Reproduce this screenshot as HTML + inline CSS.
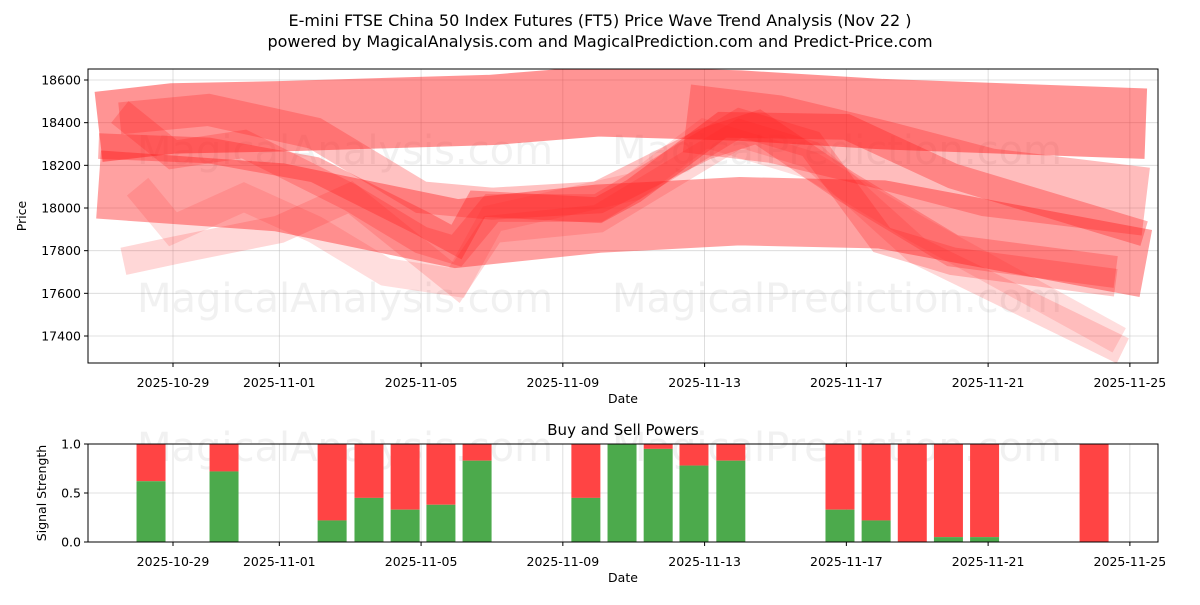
<!DOCTYPE html>
<html><head><meta charset="utf-8"><style>
body{margin:0;background:#fff;font-family:"Liberation Sans","DejaVu Sans",sans-serif;}
svg text{font-family:"DejaVu Sans","Liberation Sans",sans-serif;}
</style></head><body>
<svg id="c" width="1200" height="600" viewBox="0 0 1200 600" xmlns="http://www.w3.org/2000/svg">
<rect width="1200" height="600" fill="#fff"/>
<text x="600" y="26" text-anchor="middle" font-size="16" fill="#000">E-mini FTSE China 50 Index Futures (FT5) Price Wave Trend Analysis (Nov 22 )</text>
<text x="600" y="47" text-anchor="middle" font-size="16" fill="#000">powered by MagicalAnalysis.com and MagicalPrediction.com and Predict-Price.com</text>
<g id="topPanel"></g>
<g id="botPanel"></g>
</svg>
<script>
const NS='http://www.w3.org/2000/svg';
// x data: days since 2025-10-29
const tickDays=[0,3,7,11,15,19,23,27];
const tickLabels=['2025-10-29','2025-11-01','2025-11-05','2025-11-09','2025-11-13','2025-11-17','2025-11-21','2025-11-25'];
const priceTicks=[17400,17600,17800,18000,18200,18400,18600];
const powerTicks=[0,0.5,1.0];
const powerTickLabels=['0.0','0.5','1.0'];
// wave bands: [day, price] centerlines
const bandA=[[-2.1,18380],[0,18420],[3,18430],[9,18460],[12,18500],[16,18480],[20,18440],[27.45,18395]];
const bandB=[[-2.1,18110],[3,18050],[8,17880],[12,17950],[16,17985],[20,17970],[27.45,17740]];
const bandH=[[14.5,18420],[17,18370],[20,18250],[23,18120],[27.45,18030]];
const bandC=[[-2.1,18290],[1,18270],[4,18180],[7,17930],[8,17840],[8.6,18020],[12,17990],[13,18080],[15.5,18390],[19,18380],[22,18150],[25,18000],[27.4,17880]];
const bandD=[[-1.5,18450],[0,18250],[2,18300],[5,18050],[7,17850],[8,17800],[9,18000],[12,18000],[14,18200],[16,18400],[18,18300],[20,17850],[22,17750],[26.6,17650]];
const bandE=[[-1.4,17750],[0,17800],[3,17900],[5,18050],[8,17650],[9,17900],[12,17950],[16,18350],[18,18250],[21,17800],[26.8,17330]];
const bandF=[[-1.5,18420],[1,18460],[4,18350],[7,18050],[9,18020],[12,18050],[15,18300],[16.5,18380],[19,18100],[22,17800],[26.6,17700]];
const bandG=[[-1,18100],[0,17900],[2,18050],[4,17900],[6,17700],[8,17650],[9,17950],[13,18100],[15,18350],[18,18200],[21,17900],[26.7,17380]];
const bands=[bandB,bandA,bandH,bandG,bandE,bandF,bandD,bandC];
const bandThick=[320,330,320,130,130,150,130,120];
const bandAlpha=[0.42,0.48,0.3,0.15,0.18,0.28,0.25,0.35];
// buy/sell powers
const barDays=[-0.62,1.44,4.49,5.53,6.55,7.56,8.58,11.65,12.67,13.69,14.7,15.74,18.82,19.84,20.86,21.88,22.9,25.99];
const buyPower=[0.62,0.72,0.22,0.45,0.33,0.38,0.83,0.45,1.0,0.95,0.78,0.83,0.33,0.22,0.0,0.05,0.05,0.0];

const X=d=>173+35.44*d;
const Y=p=>80+(18600-p)*0.21333;
const Yb=v=>542-98*v;
function mk(tag,attrs,parent){const e=document.createElementNS(NS,tag);for(const k in attrs)e.setAttribute(k,attrs[k]);parent.appendChild(e);return e;}
const topG=document.getElementById('topPanel'),botG=document.getElementById('botPanel');

// grids
tickDays.forEach((d,i)=>{
  const g=mk('line',{x1:X(d),x2:X(d),y1:69,y2:363,stroke:'#b0b0b0','stroke-width':0.8,'stroke-opacity':0.5},topG);
  
  
  const g2=mk('line',{x1:X(d),x2:X(d),y1:444,y2:542,stroke:'#b0b0b0','stroke-width':0.8,'stroke-opacity':0.5},botG);
  
  
});
priceTicks.forEach(p=>{
  const g=mk('line',{x1:88,x2:1158,y1:Y(p),y2:Y(p),stroke:'#b0b0b0','stroke-width':0.8,'stroke-opacity':0.5},topG);
  
  
});
powerTicks.forEach(v=>{
  const g=mk('line',{x1:88,x2:1158,y1:Yb(v),y2:Yb(v),stroke:'#b0b0b0','stroke-width':0.8,'stroke-opacity':0.5},botG);
  
  
});
// watermarks
[[345,150,'MagicalAnalysis.com'],[837,150,'MagicalPrediction.com'],[345,298,'MagicalAnalysis.com'],[837,298,'MagicalPrediction.com'],[345,447,'MagicalAnalysis.com'],[837,447,'MagicalPrediction.com']].forEach(w=>{
  const t=mk('text',{x:w[0],y:w[1]+14,'text-anchor':'middle','font-size':40,fill:'#888','fill-opacity':0.12},w[1]>400?botG:topG);
  t.textContent=w[2];
  
  
});
// bands
const cp=mk('clipPath',{id:'clipTop'},topG);mk('rect',{x:88,y:69,width:1070,height:294},cp);
bands.forEach((b,i)=>{
  const pts=b.map(q=>X(q[0]).toFixed(1)+','+Y(q[1]).toFixed(1)).join(' ');
  const l=mk('polyline',{points:pts,fill:'none',stroke:'#ff2020','stroke-opacity':bandAlpha[i],'stroke-width':bandThick[i]*0.21333,'stroke-linejoin':'miter','stroke-miterlimit':3,'clip-path':'url(#clipTop)'},topG);
  
  
});
// bars
barDays.forEach((d,i)=>{
  const x=X(d)-14.5;
  const r=mk('rect',{x:x,y:Yb(1),width:29,height:Yb(buyPower[i])-Yb(1),fill:'#ff4444'},botG);
  
  
  const g=mk('rect',{x:x,y:Yb(buyPower[i]),width:29,height:542-Yb(buyPower[i]),fill:'#4caa4c'},botG);
  
  
});
// axes frames
const f1=mk('rect',{x:88,y:69,width:1070,height:294,fill:'none',stroke:'#000','stroke-width':1},topG);


const f2=mk('rect',{x:88,y:444,width:1070,height:98,fill:'none',stroke:'#000','stroke-width':1},botG);


// ticks
tickDays.forEach((d,i)=>{
  [[363,topG,387],[542,botG,566]].forEach(a=>{
    mk('line',{x1:X(d),x2:X(d),y1:a[0],y2:a[0]+4,stroke:'#000'},a[1]);
    const t=mk('text',{x:X(d),y:a[2],'text-anchor':'middle','font-size':12.5},a[1]);
    t.textContent=tickLabels[i];
    
    
  });
});
priceTicks.forEach(p=>{
  mk('line',{x1:84,x2:88,y1:Y(p),y2:Y(p),stroke:'#000'},topG);
  const t=mk('text',{x:81,y:Y(p)+4.5,'text-anchor':'end','font-size':12.5},topG);
  t.textContent=p;
  
  
});
powerTicks.forEach((v,i)=>{
  mk('line',{x1:84,x2:88,y1:Yb(v),y2:Yb(v),stroke:'#000'},botG);
  const t=mk('text',{x:81,y:Yb(v)+4.5,'text-anchor':'end','font-size':12.5},botG);
  t.textContent=powerTickLabels[i];
  
  
});
function lbl(txt,x,y,name,parent,rot,size){
  const t=mk('text',{x:x,y:y,'text-anchor':'middle','font-size':size||12.5},parent);
  if(rot)t.setAttribute('transform','rotate(-90 '+x+' '+y+')');
  t.textContent=txt;
  
  
}
lbl('Date',623,403,'x-axis-title',topG);
lbl('Price',26,216,'y-axis-title',topG,true);
lbl('Buy and Sell Powers',623,435,'power-panel-title',botG,false,15);
lbl('Date',623,582,'x-axis-title',botG);
lbl('Signal Strength',46,493,'y-axis-title',botG,true);
</script>
</body></html>
